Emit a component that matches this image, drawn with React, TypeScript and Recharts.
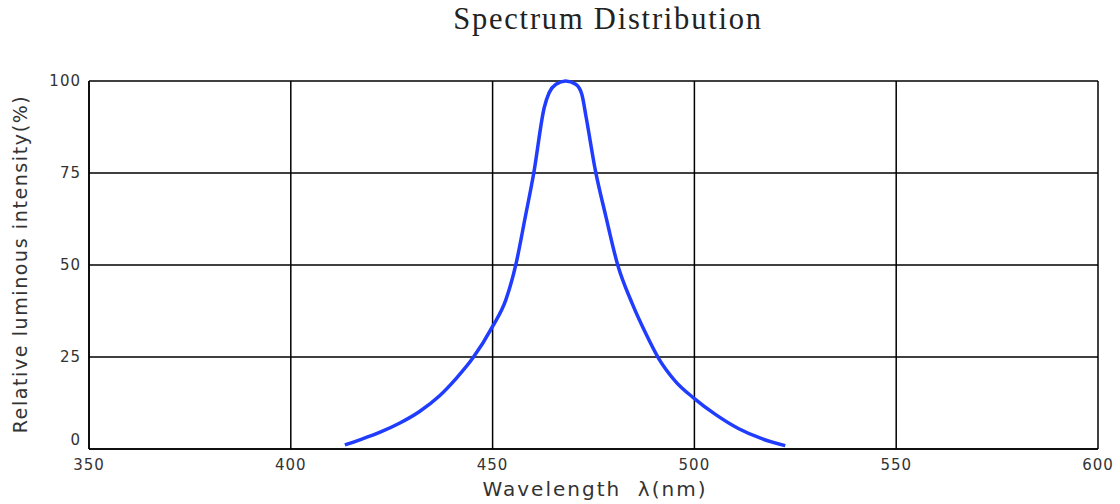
import React from "react";
import { LineChart, Line, XAxis, YAxis, CartesianGrid } from "recharts";

const wavelengths = [
  413.4, 417.1, 422, 426.9, 431.9, 436.8, 441, 445.1, 450, 453.3, 455.8, 458, 460.2,
  462.8, 464, 465.7, 468.1, 470.6, 472.1, 473.2, 475.5, 478, 481, 484.6, 487.9,
  491.2, 495.3, 500, 505.2, 511, 516.7, 522.5,
];
const intensity = [
  1.1, 2.5, 4.5, 7, 10.2, 14.4, 19.2, 24.7, 33.3, 40.6, 50.3, 62.5, 75,
  92.8, 96.8, 99.1, 100, 99.1, 96.4, 90, 75.5, 63.5, 50, 39.5, 31.5,
  24.5, 18.4, 13.7, 9.4, 5.5, 2.8, 0.9,
];
const xTicks = [350, 400, 450, 500, 550, 600];
const yTicks = [0, 25, 50, 75, 100];

const data = wavelengths.map((w, i) => ({ w, v: intensity[i] }));

const tickFont = { fontFamily: "DejaVu Sans", fontSize: 15, fill: "#333", letterSpacing: 1 };

function YTick(props: any) {
  const { x, y, payload } = props;
  const dy = payload.value === 0 ? -4 : 5;
  return (
    <text x={x} y={y + dy} textAnchor="end" {...tickFont}>
      {payload.value}
    </text>
  );
}

function XTick(props: any) {
  const { x, y, payload } = props;
  return (
    <text x={x} y={y + 13} textAnchor="middle" {...tickFont}>
      {payload.value}
    </text>
  );
}

export default function App() {
  return (
    <div style={{ position: "absolute", left: 0, top: 0, width: 1120, height: 504, background: "#fff" }}>
      <div
        style={{
          position: "absolute", left: 0, top: 2, width: 1216, textAlign: "center",
          fontFamily: "Liberation Serif", fontSize: 30.5, letterSpacing: 1.8, color: "#222",
        }}
      >
        Spectrum Distribution
      </div>
      <div
        style={{
          position: "absolute", left: 0, top: 477, width: 1190, textAlign: "center",
          fontFamily: "DejaVu Sans", fontSize: 20, letterSpacing: 2, color: "#333", whiteSpace: "pre",
        }}
      >
        {"Wavelength  λ(nm)"}
      </div>
      <div style={{ position: "absolute", left: 20, top: 265, width: 0, height: 0 }}>
        <div
          style={{
            position: "absolute", left: -200, top: -12, width: 400, textAlign: "center",
            transform: "rotate(-90deg)", fontFamily: "DejaVu Sans", fontSize: 19,
            letterSpacing: 1.6, color: "#333", whiteSpace: "nowrap",
          }}
        >
          Relative luminous intensity(%)
        </div>
      </div>
      <LineChart
        width={1120}
        height={504}
        data={data}
        margin={{ top: 81, right: 22, left: 0, bottom: 0 }}
        style={{ position: "absolute", left: 0, top: 0 }}
      >
        <CartesianGrid stroke="#000" strokeWidth={1.5} strokeOpacity={1} />
        <XAxis
          type="number"
          dataKey="w"
          domain={[350, 600]}
          ticks={xTicks}
          height={55}
          axisLine={{ stroke: "#000", strokeWidth: 1.5 }}
          tickLine={false}
          tick={<XTick />}
          interval={0}
        />
        <YAxis
          type="number"
          domain={[0, 100]}
          ticks={yTicks}
          width={89}
          axisLine={{ stroke: "#000", strokeWidth: 1.5 }}
          tickLine={false}
          tick={<YTick />}
          interval={0}
        />
        <Line
          type="monotone"
          dataKey="v"
          stroke="#1f3cff"
          strokeWidth={3.5}
          dot={false}
          isAnimationActive={false}
        />
      </LineChart>
    </div>
  );
}
